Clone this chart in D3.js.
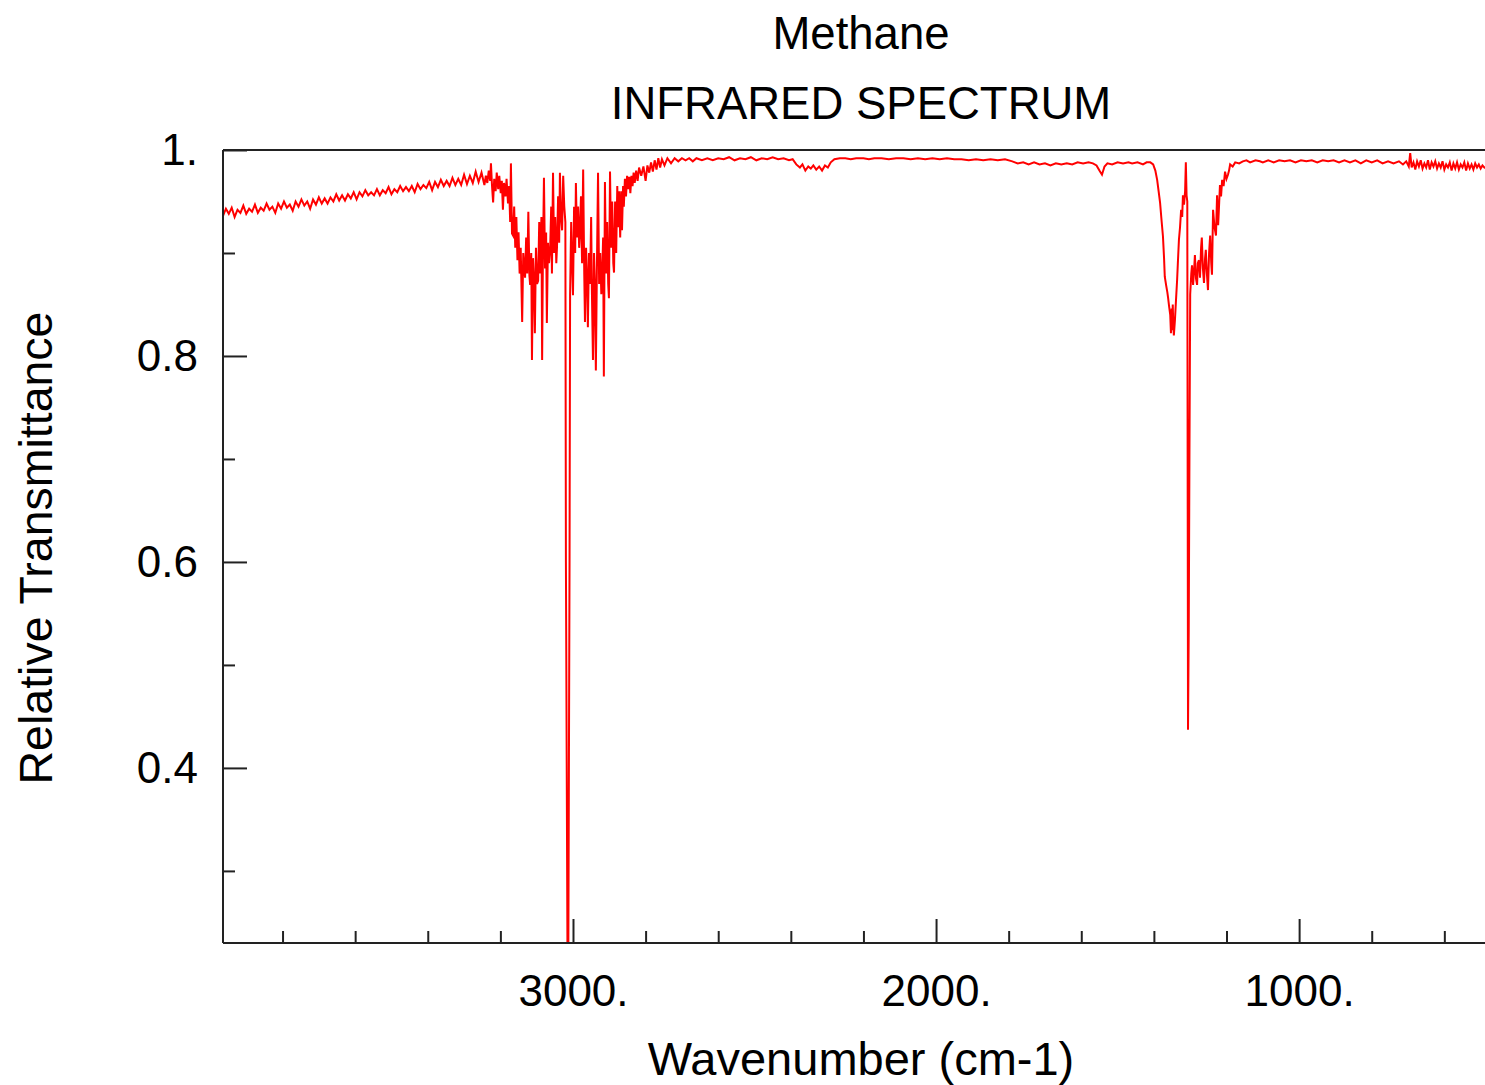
<!DOCTYPE html>
<html>
<head>
<meta charset="utf-8">
<script src="https://cdn.jsdelivr.net/npm/d3@7"></script>
<style>
  html, body { margin: 0; padding: 0; background: #ffffff; }
  svg { display: block; }
</style>
</head>
<body>
<svg id="chart" width="1485" height="1085"></svg>
<script>
// ---------------- DATA ----------------
const titleLines = ["Methane", "INFRARED SPECTRUM"];
const xAxisTitle = "Wavenumber (cm-1)";
const yAxisTitle = "Relative Transmittance";

const xMajorTicks = [3000, 2000, 1000];
const xMajorLabels = ["3000.", "2000.", "1000."];
const xMinorTicks = [3800, 3600, 3400, 3200, 2800, 2600, 2400, 2200, 1800, 1600, 1400, 1200, 800, 600];
const yMajorTicks = [1.0, 0.8, 0.6, 0.4];
const yMajorLabels = ["1.", "0.8", "0.6", "0.4"];
const yMinorTicks = [0.9, 0.7, 0.5, 0.3];

// [wavenumber, transmittance] — high-frequency baseline
const baselineHigh = [
[3964,0.936],[3956,0.943],[3948,0.938],[3940,0.944],[3932,0.935],[3924,0.942],[3916,0.939],[3908,0.946],
[3900,0.938],[3892,0.943],[3884,0.940],[3876,0.947],[3868,0.939],[3860,0.944],[3852,0.941],[3844,0.948],
[3836,0.942],[3828,0.945],[3820,0.939],[3812,0.948],[3804,0.943],[3796,0.950],[3788,0.944],[3780,0.947],
[3772,0.941],[3764,0.950],[3756,0.945],[3748,0.952],[3740,0.946],[3732,0.950],[3724,0.943],[3716,0.952],
[3708,0.947],[3700,0.954],[3692,0.948],[3684,0.953],[3676,0.948],[3668,0.954],[3660,0.950],[3652,0.957],
[3644,0.951],[3636,0.956],[3628,0.951],[3620,0.957],[3612,0.953],[3604,0.959],[3596,0.952],[3588,0.959],
[3580,0.955],[3572,0.961],[3564,0.956],[3556,0.959],[3548,0.956],[3540,0.962],[3532,0.956],[3524,0.961],
[3516,0.958],[3508,0.964],[3500,0.957],[3492,0.962],[3484,0.959],[3476,0.965],[3468,0.960],[3460,0.964],
[3452,0.960],[3444,0.965],[3436,0.959],[3428,0.967],[3420,0.962],[3412,0.966],[3404,0.963],[3396,0.969],
[3388,0.961],[3380,0.969],[3372,0.964],[3364,0.971],[3356,0.965],[3348,0.970],[3340,0.965],[3332,0.973],
[3324,0.966],[3316,0.972],[3308,0.966],[3300,0.976],[3292,0.967],[3284,0.975],[3276,0.968],[3268,0.979],
[3260,0.969],[3252,0.978],[3244,0.966]
];

// C-H stretch band (nu3) with P, Q, R branches
const stretchBand = [
[3240,0.975],[3236,0.968],[3232,0.980],[3228,0.970],[3226,0.987],[3223,0.965],[3220,0.949],[3217,0.972],
[3213,0.960],[3210,0.978],[3206,0.962],[3203,0.975],[3199,0.958],[3196,0.970],[3193,0.942],[3190,0.968],
[3186,0.955],[3183,0.972],[3179,0.948],[3176,0.965],[3173,0.930],[3171,0.987],[3168,0.919],[3165,0.917],
[3162,0.945],[3159,0.905],[3156,0.935],[3153,0.893],[3150,0.920],[3147,0.880],[3144,0.905],[3140,0.833],
[3137,0.900],[3134,0.885],[3132,0.876],[3129,0.915],[3126,0.880],[3123,0.940],[3120,0.878],[3118,0.869],
[3115,0.900],[3113,0.796],[3110,0.895],[3107,0.870],[3105,0.822],[3102,0.905],[3099,0.870],[3096,0.873],
[3093,0.930],[3090,0.880],[3087,0.935],[3085,0.796],[3083,0.890],[3080,0.973],[3077,0.885],[3074,0.920],
[3072,0.832],[3069,0.910],[3066,0.890],[3063,0.903],[3060,0.945],[3058,0.880],[3055,0.978],[3052,0.900],
[3049,0.935],[3046,0.890],[3044,0.906],[3041,0.955],[3038,0.910],[3036,0.978],[3033,0.935],[3030,0.922],
[3027,0.975],[3024,0.945],[3021,0.930],[3019.5,0.600],[3015,0.200],[3013,0.200],[3009.5,0.600],[3008,0.859],
[3005,0.930],[3003,0.900],[3000,0.859],[2997,0.945],[2994,0.900],[2992,0.968],[2989,0.915],[2986,0.945],
[2983,0.905],[2981,0.919],[2978,0.955],[2975,0.890],[2972,0.981],[2969,0.880],[2967,0.833],[2964,0.905],
[2961,0.871],[2959,0.828],[2956,0.900],[2953,0.870],[2950,0.935],[2948,0.865],[2945,0.796],[2942,0.900],
[2940,0.875],[2937,0.786],[2934,0.890],[2931,0.978],[2928,0.870],[2925,0.900],[2922,0.860],[2920,0.874],
[2917,0.915],[2915,0.780],[2912,0.969],[2909,0.880],[2906,0.930],[2903,0.870],[2901,0.856],[2898,0.979],
[2895,0.905],[2892,0.950],[2889,0.890],[2887,0.881],[2884,0.950],[2881,0.900],[2878,0.965],[2876,0.925],
[2873,0.960],[2870,0.915],[2867,0.960],[2865,0.922],[2862,0.965],[2860,0.945],[2857,0.972],[2854,0.955],
[2851,0.975],[2848,0.962],[2845,0.974],[2842,0.958],[2839,0.975],[2836,0.965],[2833,0.978],[2830,0.968],
[2826,0.980],[2822,0.970],[2818,0.983]
];

// flat region between the bands
const baselineMid = [
[2812,0.975],[2806,0.984],[2800,0.970],[2795,0.985],[2790,0.978],[2785,0.988],[2780,0.979],[2775,0.990],
[2770,0.981],[2765,0.992],[2760,0.983],[2755,0.991],[2748,0.985],[2740,0.992],[2730,0.987],[2720,0.992],
[2710,0.989],[2700,0.992],[2690,0.990],[2680,0.992],[2670,0.989],[2660,0.992],[2645,0.990],[2630,0.992],
[2615,0.990],[2600,0.992],[2585,0.991],[2570,0.993],[2555,0.990],[2540,0.992],[2525,0.991],[2510,0.993],
[2495,0.990],[2480,0.992],[2465,0.991],[2450,0.993],[2435,0.991],[2420,0.992],[2405,0.990],[2395,0.991],
[2385,0.986],[2375,0.983],[2368,0.986],[2360,0.980],[2352,0.984],[2345,0.982],[2338,0.985],[2330,0.981],
[2322,0.984],[2314,0.980],[2306,0.985],[2298,0.983],[2290,0.988],[2280,0.991],[2265,0.992],[2250,0.992],
[2235,0.991],[2220,0.992],[2200,0.992],[2185,0.991],[2170,0.992],[2150,0.992],[2130,0.991],[2110,0.992],
[2090,0.992],[2070,0.991],[2050,0.992],[2030,0.991],[2010,0.992],[1990,0.991],[1970,0.992],[1950,0.991],
[1930,0.991],[1910,0.990],[1890,0.991],[1870,0.990],[1850,0.991],[1830,0.990],[1810,0.991],[1790,0.989],
[1775,0.987],[1760,0.988],[1745,0.986],[1730,0.988],[1715,0.986],[1700,0.987],[1685,0.985],[1670,0.987],
[1655,0.986],[1640,0.987],[1625,0.986],[1610,0.988],[1595,0.987],[1580,0.988],[1568,0.987],[1558,0.985],
[1550,0.980],[1543,0.976],[1536,0.984],[1528,0.987],[1515,0.986],[1500,0.988],[1485,0.987],[1470,0.988]
];

// C-H bending band (nu4)
const bendBand = [
[1460,0.987],[1445,0.988],[1430,0.986],[1420,0.988],[1410,0.988],[1402,0.986],[1396,0.980],[1391,0.971],
[1387,0.960],[1383,0.949],[1379,0.932],[1375,0.916],[1372,0.895],[1370,0.877],[1366,0.868],[1363,0.862],
[1361,0.857],[1358,0.848],[1355,0.840],[1353,0.822],[1351,0.846],[1350,0.825],[1348,0.850],[1347,0.835],
[1345,0.820],[1342,0.835],[1339,0.855],[1336,0.874],[1334,0.890],[1331,0.913],[1328,0.925],[1325,0.942],
[1322,0.935],[1320,0.956],[1317,0.947],[1314,0.960],[1312,0.988],[1310,0.956],[1308,0.950],[1306,0.437],
[1304,0.534],[1302,0.709],[1300,0.860],[1297,0.880],[1295,0.888],[1292,0.869],[1289,0.885],[1287,0.898],
[1284,0.875],[1281,0.869],[1279,0.890],[1276,0.893],[1273,0.876],[1270,0.905],[1268,0.915],[1265,0.885],
[1262,0.871],[1259,0.895],[1257,0.903],[1254,0.880],[1251,0.864],[1248,0.900],[1245,0.917],[1242,0.890],
[1240,0.879],[1237,0.942],[1233,0.925],[1229,0.917],[1226,0.956],[1223,0.927],[1220,0.950],[1218,0.966],
[1215,0.955],[1212,0.971],[1208,0.965],[1204,0.979],[1200,0.972],[1196,0.976],[1193,0.980],[1190,0.986],
[1183,0.984],[1176,0.988],[1165,0.987],[1155,0.989],[1145,0.990],[1135,0.988],[1120,0.990],[1108,0.989]
];

// low-frequency baseline
const baselineLow = [
[1100,0.988],[1085,0.990],[1070,0.988],[1055,0.990],[1040,0.989],[1025,0.990],[1010,0.988],[995,0.990],
[980,0.989],[965,0.990],[950,0.988],[935,0.990],[920,0.989],[905,0.990],[890,0.988],[875,0.990],
[860,0.988],[845,0.990],[830,0.987],[815,0.990],[800,0.988],[785,0.990],[770,0.987],[755,0.989],
[740,0.987],[725,0.989],[714,0.986],[705,0.989],[698,0.984],[694,0.997],[690,0.983],[685,0.988],
[680,0.981],[675,0.989],[670,0.984],[665,0.990],[660,0.982],[655,0.987],[650,0.983],[645,0.990],
[640,0.981],[635,0.988],[630,0.984],[625,0.989],[620,0.982],[615,0.987],[610,0.983],[605,0.989],
[600,0.981],[595,0.986],[590,0.983],[585,0.988],[580,0.980],[575,0.987],[570,0.982],[565,0.988],
[560,0.981],[555,0.986],[550,0.983],[545,0.988],[540,0.980],[535,0.987],[530,0.982],[525,0.986],
[520,0.981],[515,0.987],[510,0.983],[505,0.986],[500,0.982],[495,0.985],[490,0.983],[488,0.984]
];

const spectrum = [].concat(baselineHigh, stretchBand, baselineMid, bendBand, baselineLow);

// ---------------- DRAWING ----------------
const svg = d3.select("#chart");
const plotL = 223, plotR = 1485, plotT = 150, plotB = 943;
const FONT = "'Liberation Sans', Arial, Helvetica, sans-serif";
const axisColor = "#222222";

const x = d3.scaleLinear().domain([3964, 488]).range([plotL, plotR]);
const y = d3.scaleLinear().domain([0.23, 1.0]).range([plotB, plotT]);

svg.append("defs").append("clipPath").attr("id", "plotClip")
  .append("rect").attr("x", plotL).attr("y", plotT).attr("width", plotR - plotL).attr("height", plotB - plotT);

// spectrum line
const line = d3.line().x(d => x(d[0])).y(d => y(d[1]));
svg.append("path")
  .datum(spectrum)
  .attr("clip-path", "url(#plotClip)")
  .attr("fill", "none")
  .attr("stroke", "#ff0000")
  .attr("stroke-width", 2)
  .attr("stroke-linejoin", "miter")
  .attr("d", line);

// axes
function styleAxis(g) {
  g.select(".domain").remove();
  g.selectAll(".tick line").attr("stroke", axisColor).attr("stroke-width", 2);
  g.selectAll(".tick text").attr("fill", "#000").attr("font-family", FONT).attr("font-size", 44);
}

svg.append("g").attr("transform", `translate(0,${plotB})`)
  .call(d3.axisBottom(x).tickValues(xMajorTicks).tickSize(-24).tickPadding(32)
    .tickFormat((d, i) => xMajorLabels[i]))
  .call(styleAxis);
svg.append("g").attr("transform", `translate(0,${plotB})`)
  .call(d3.axisBottom(x).tickValues(xMinorTicks).tickSize(-12).tickFormat(""))
  .call(styleAxis);

svg.append("g").attr("transform", `translate(${plotL},0)`)
  .call(d3.axisLeft(y).tickValues(yMajorTicks).tickSize(-24).tickPadding(25)
    .tickFormat((d, i) => yMajorLabels[i]))
  .call(styleAxis);
svg.append("g").attr("transform", `translate(${plotL},0)`)
  .call(d3.axisLeft(y).tickValues(yMinorTicks).tickSize(-12).tickFormat(""))
  .call(styleAxis);

// frame: left, top, bottom
const frame = svg.append("g").attr("stroke", axisColor).attr("stroke-width", 2).attr("fill", "none");
frame.append("line").attr("x1", plotL).attr("x2", plotL).attr("y1", plotT).attr("y2", plotB);
frame.append("line").attr("x1", plotL).attr("x2", plotR).attr("y1", plotT).attr("y2", plotT);
frame.append("line").attr("x1", plotL).attr("x2", plotR).attr("y1", plotB).attr("y2", plotB);

// titles
svg.append("text").attr("x", 861).attr("y", 49).attr("text-anchor", "middle")
  .attr("font-family", FONT).attr("font-size", 45.5).attr("fill", "#000").text(titleLines[0]);
svg.append("text").attr("x", 861).attr("y", 119).attr("text-anchor", "middle")
  .attr("font-family", FONT).attr("font-size", 45.5).attr("fill", "#000").text(titleLines[1]);

svg.append("text").attr("x", 861).attr("y", 1075).attr("text-anchor", "middle")
  .attr("font-family", FONT).attr("font-size", 47).attr("fill", "#000").text(xAxisTitle);

svg.append("text").attr("transform", "translate(52,548) rotate(-90)").attr("text-anchor", "middle")
  .attr("font-family", FONT).attr("font-size", 46.5).attr("fill", "#000").text(yAxisTitle);
</script>
</body>
</html>
